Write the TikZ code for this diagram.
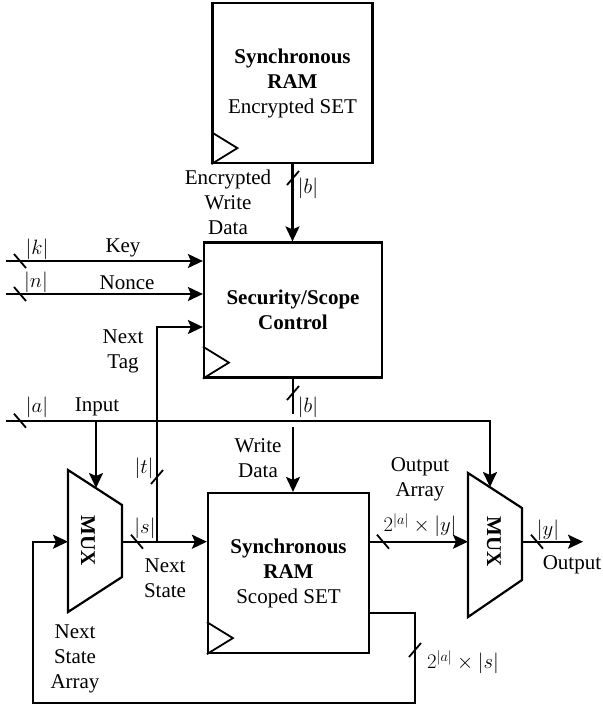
\documentclass[tikz,border=0pt]{standalone}
\usepackage{fontspec}
\setmainfont{Liberation Serif}
\usetikzlibrary{arrows.meta,calc}
\begin{document}
\begin{tikzpicture}[x=1pt,y=-1pt,line width=2.2pt,
  every node/.style={font=\fontsize{21}{25}\selectfont,inner sep=0pt},
  box/.style={draw,line width=2.2pt,inner sep=0pt,align=center},
  lbl/.style={align=center},
  arr/.style={-{Stealth[length=15pt,width=14pt,inset=3pt]}},
  bslash/.pic={\draw[line width=1.8pt] (-6,-7) -- (6,7);},
  fslash/.pic={\draw[line width=1.8pt] (-6,7) -- (6,-7);}]
\useasboundingbox (0,0) rectangle (603,705);

% boxes
\node[box,minimum width=160pt,minimum height=160pt] (ram1) at (292.5,83)
  {\textbf{Synchronous}\\\textbf{RAM}\\Encrypted SET};
\node[box,minimum width=178pt,minimum height=135pt] (sec) at (293,310)
  {\textbf{Security/Scope}\\\textbf{Control}};
\node[box,minimum width=161pt,minimum height=160pt] (ram2) at (288.5,573)
  {\textbf{Synchronous}\\\textbf{RAM}\\Scoped SET};

% clock triangles
\foreach \b in {ram1,sec,ram2}
  \draw[line width=1.8pt] ($(\b.south west)+(0,-32)$) -- ++(26,16) -- (\b.south west);

% muxes
\coordinate (m1a) at (68,470); \coordinate (m1b) at (122,505);
\coordinate (m1c) at (122,577); \coordinate (m1d) at (68,612);
\draw (m1a) -- (m1b) -- (m1c) -- (m1d) -- cycle;
\node[rotate=-90,font=\fontsize{21}{25}\selectfont\bfseries] (mux1) at (88,541) {MUX};
\coordinate (m2a) at (468,473); \coordinate (m2b) at (522,508);
\coordinate (m2c) at (522,580); \coordinate (m2d) at (468,617);
\draw (m2a) -- (m2b) -- (m2c) -- (m2d) -- cycle;
\node[rotate=-90,font=\fontsize{21}{25}\selectfont\bfseries] (mux2) at (494,542) {MUX};

\coordinate (m1in) at (68,541.7);
\coordinate (m1out) at (122,541.7);
\coordinate (m1top) at (96,488);
\coordinate (m2in) at (468,541.7);
\coordinate (m2out) at (522,541.7);
\coordinate (m2top) at (490,487);

% inputs
\coordinate (kin) at (6,261);
\coordinate (nin) at (6,294);
\coordinate (ain) at (6,420.7);
\coordinate (tagy) at (0,327);
\coordinate (ns) at (157,541.7);
\coordinate (gapT) at (293,414);
\coordinate (gapB) at (293,427);
\coordinate (yout) at (583,541.7);
\coordinate (fb1) at (415,703);
\coordinate (fb2) at (33,703);

\draw[arr] (ram1.south) -- (ram1.south |- sec.north);
\draw[arr] (kin) -- (kin -| sec.west);
\draw[arr] (nin) -- (nin -| sec.west);
\draw[arr] (ns) |- (sec.west |- tagy);
\draw (sec.south) -- (gapT);
\draw[arr] (gapB) -- (gapB |- ram2.north);
\draw[arr] (ain) -| (m2top);
\draw[arr] (m1top |- ain) -- (m1top);
\draw[arr] (m1out) -- (m1out -| ram2.west);
\draw[arr] (ram2.east |- m2in) -- (m2in);
\draw[arr] (m2out) -- (yout);
\draw[arr] ($(ram2.east)+(0,40)$) -| (fb1) -- (fb2) |- (m1in);

% bus slashes
\pic at (20,261) {bslash};
\pic at (20,294) {bslash};
\pic at (20,420.7) {bslash};
\pic at (137,541.7) {bslash};
\pic at (383,541.7) {bslash};
\pic at (537,541.7) {bslash};
\pic at (157,477) {fslash};
\pic at (293,178) {fslash};
\pic at (293,393) {fslash};
\pic at (415,650) {fslash};

% labels
\node (lk) at (37,249) {$|k|$};
\node (lkey) at (123,248) {Key};
\node (ln) at (36,282) {$|n|$};
\node (lnonce) at (127,283) {Nonce};
\node[lbl] (ltag) at (123,351) {Next\\Tag};
\node (la) at (37,407) {$|a|$};
\node (linput) at (97,407) {Input};
\node (lt) at (144,468) {$|t|$};
\node (ls) at (145,528) {$|s|$};
\node[lbl] (lnstate) at (165,578) {Next\\State};
\node[lbl] (lnsa) at (75,659) {Next\\State\\Array};
\node[lbl] (lewd) at (228,202) {Encrypted\\Write\\Data};
\node (lb1) at (308,188) {$|b|$};
\node (lb2) at (308,407) {$|b|$};
\node[lbl] (lwd) at (258,458) {Write\\Data};
\node[lbl] (loa) at (420,479) {Output\\Array};
\node (lay) at (420,525) {$2^{|a|}\times|y|$};
\node (ly) at (548,530) {$|y|$};
\node (lout) at (572,565) {Output};
\node (las) at (463,662) {$2^{|a|}\times|s|$};
\end{tikzpicture}
\end{document}
